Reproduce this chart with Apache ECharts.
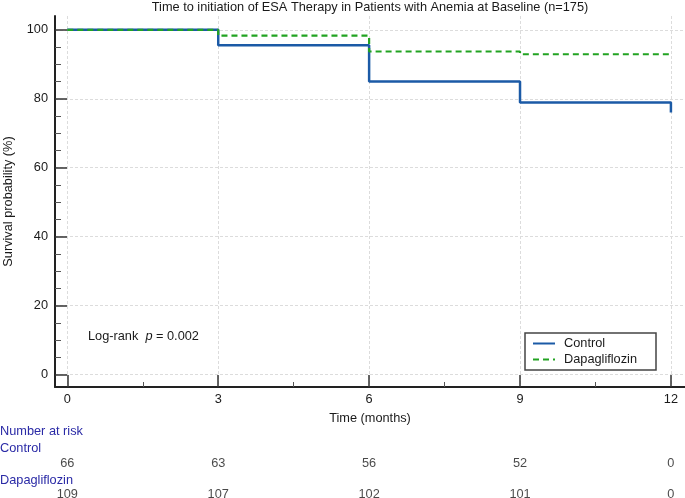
<!DOCTYPE html>
<html><head><meta charset="utf-8">
<script src="https://cdn.jsdelivr.net/npm/echarts@6/dist/echarts.min.js"></script>
<style>html,body{margin:0;padding:0;background:#fff}#c{width:685px;height:498px}</style>
</head><body><div id="c"></div>
<script>
const months = [0, 3, 6, 9, 12];
const controlSurv = [100, 95.5, 85.0, 78.9, 76.0];
const dapaSurv = [100, 98.3, 93.7, 92.9, 92.9];
const controlRisk = [66, 63, 56, 52, 0];
const dapaRisk = [109, 107, 102, 101, 0];
const yTicks = [0, 20, 40, 60, 80, 100];
const yMinor = [5, 10, 15, 25, 30, 35, 45, 50, 55, 65, 70, 75, 85, 90, 95];
const xMinor = [1.5, 4.5, 7.5, 10.5];

const XMIN = -0.245, XMAX = 12.28, YMIN = -3.6, YMAX = 104;
const FONT = 'Liberation Sans, Arial, sans-serif';
const FS = 12.75;
const TXT = '#1a1a1a';
const BLUE_LBL = '#2a2aa6';

function pairs(xs, ys) { return xs.map((x, i) => [x, ys[i]]); }
function riskData(xs, vals) { return xs.map((x, i) => [x, 0, vals[i]]); }

const chart = echarts.init(document.getElementById('c'), null, {renderer: 'canvas'});
const gridLine = {show: true, lineStyle: {color: '#dcdcdc', type: [3, 2], width: 1}};
const hiddenX = (gi) => ({type: 'value', gridIndex: gi, min: XMIN, max: XMAX, show: false});
const hiddenY = (gi) => ({type: 'value', gridIndex: gi, min: -1, max: 1, show: false});
const lblStyle = {fontSize: FS, fontWeight: 'normal', color: BLUE_LBL, fontFamily: FONT};

chart.setOption({
  animation: false,
  textStyle: {fontFamily: FONT},
  title: [
    {text: 'Time to initiation of ESA Therapy in Patients with Anemia at Baseline (n=175)', left: 370, textAlign: 'center', top: 1, padding: 0,
     textStyle: {fontSize: FS, fontWeight: 'normal', color: TXT, fontFamily: FONT}},
    {text: 'Number at risk', left: 0, top: 425, padding: 0, textStyle: lblStyle},
    {text: 'Control', left: 0, top: 442, padding: 0, textStyle: lblStyle},
    {text: 'Dapagliflozin', left: 0, top: 474, padding: 0, textStyle: lblStyle}
  ],
  grid: [
    {left: 55, right: 0, top: 16, bottom: 111, outerBoundsMode: 'none', containLabel: false},
    {left: 55, right: 0, top: 457, height: 12, outerBoundsMode: 'none', containLabel: false},
    {left: 55, right: 0, top: 488, height: 12, outerBoundsMode: 'none', containLabel: false}
  ],
  legend: {
    orient: 'vertical', left: 525, top: 333, padding: [4, 19, 4, 7], itemGap: 3,
    itemWidth: 22, itemHeight: 14,
    borderColor: '#444', borderWidth: 1.5, backgroundColor: '#fff',
    itemStyle: {opacity: 0},
    textStyle: {fontSize: FS, color: TXT, fontFamily: FONT, padding: [0, 0, 0, 4]},
    data: ['Control', 'Dapagliflozin']
  },
  xAxis: [
    {type: 'value', gridIndex: 0, min: XMIN, max: XMAX,
     name: 'Time (months)', nameLocation: 'middle', nameGap: 25,
     nameTextStyle: {fontSize: FS, color: TXT, fontFamily: FONT},
     axisLine: {show: true, onZero: false, lineStyle: {color: '#222', width: 2}},
     axisTick: {show: true, inside: true, length: 12, customValues: months, lineStyle: {color: '#333', width: 1.5}},
     axisLabel: {customValues: months, fontSize: FS, color: TXT, margin: 6, fontFamily: FONT},
     splitLine: gridLine},
    {type: 'value', gridIndex: 0, min: XMIN, max: XMAX, position: 'bottom',
     axisLine: {show: false, onZero: false},
     axisTick: {show: true, inside: true, length: 5, customValues: xMinor, lineStyle: {color: '#555', width: 1}},
     axisLabel: {show: false}, splitLine: {show: false}},
    hiddenX(1), hiddenX(2)
  ],
  yAxis: [
    {type: 'value', gridIndex: 0, min: YMIN, max: YMAX,
     name: 'Survival probability (%)', nameLocation: 'middle', nameGap: 40,
     nameTextStyle: {fontSize: FS, color: TXT, fontFamily: FONT},
     axisLine: {show: true, onZero: false, lineStyle: {color: '#222', width: 2}},
     axisTick: {show: true, inside: true, length: 12, customValues: yTicks, lineStyle: {color: '#333', width: 1.5}},
     axisLabel: {customValues: yTicks, fontSize: FS, color: TXT, margin: 7, fontFamily: FONT},
     splitLine: gridLine},
    {type: 'value', gridIndex: 0, min: YMIN, max: YMAX, position: 'left',
     axisLine: {show: false, onZero: false},
     axisTick: {show: true, inside: true, length: 6, customValues: yMinor, lineStyle: {color: '#555', width: 1}},
     axisLabel: {show: false}, splitLine: {show: false}},
    hiddenY(1), hiddenY(2)
  ],
  graphic: [
    {type: 'text', left: 88, top: 330, style: {
      text: '{a|Log-rank  }{b|p}{a| = 0.002}',
      rich: {a: {fontSize: FS, fill: TXT, fontFamily: FONT}, b: {fontSize: FS, fill: TXT, fontStyle: 'italic', fontFamily: FONT}}
    }}
  ],
  series: [
    {name: 'Control', type: 'line', step: 'end', xAxisIndex: 0, yAxisIndex: 0,
     data: pairs(months, controlSurv), symbol: 'none', showSymbol: false,
     lineStyle: {color: '#1b5aa6', width: 2.5}, itemStyle: {color: '#1b5aa6'}, z: 3},
    {name: 'Dapagliflozin', type: 'line', step: 'end', xAxisIndex: 0, yAxisIndex: 0,
     data: pairs(months, dapaSurv), symbol: 'none', showSymbol: false,
     lineStyle: {color: '#22a322', width: 2.2, type: [6, 4]}, itemStyle: {color: '#22a322'}, z: 4},
    {type: 'scatter', xAxisIndex: 2, yAxisIndex: 2, symbolSize: 0, silent: true,
     data: riskData(months, controlRisk),
     label: {show: true, position: 'inside', formatter: p => String(p.value[2]), fontSize: FS, color: TXT, fontFamily: FONT}},
    {type: 'scatter', xAxisIndex: 3, yAxisIndex: 3, symbolSize: 0, silent: true,
     data: riskData(months, dapaRisk),
     label: {show: true, position: 'inside', formatter: p => String(p.value[2]), fontSize: FS, color: TXT, fontFamily: FONT}}
  ]
});
</script></body></html>
